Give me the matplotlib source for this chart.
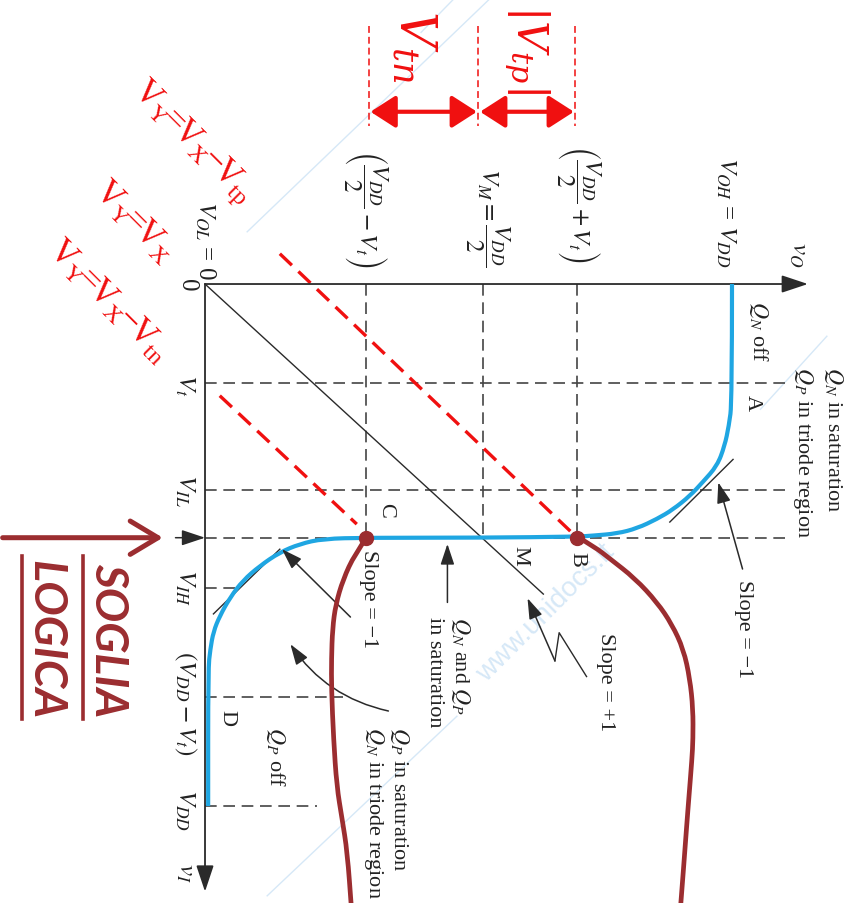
import numpy as np
import matplotlib.pyplot as plt
from matplotlib.path import Path
from matplotlib.patches import PathPatch

plt.rcParams['font.family'] = ['Liberation Serif', 'DejaVu Serif']
plt.rcParams['mathtext.fontset'] = 'custom'
plt.rcParams['mathtext.rm'] = 'Lato'
plt.rcParams['mathtext.it'] = 'Lato:italic'
plt.rcParams['mathtext.bf'] = 'Lato:bold'

# --- CMOS inverter transfer characteristic (volts, VDD = 5) ---
VDD = 5.0
V_T = 0.95          # input threshold level
V_IL = 1.97
V_M = 2.43          # switching threshold on v_I
V_IH = 2.91
V_DD_MINUS_T = 3.96

# output levels of points C, M, B on v_O
VO_C = 1.53
VO_M = 2.64
VO_B = 3.53

# VTC (v_I, v_O)
vtc_vi = [0.00, 1.13, 1.36, 1.55, 1.74, 1.90, 2.03, 2.16, 2.25, 2.34, 2.39, 2.41,
          2.42, 2.43, 2.43, 2.44, 2.49, 2.57, 2.70, 2.84, 3.00, 3.18, 3.33, 3.50,
          3.69, 5.00]
vtc_vo = [5.00, 5.00, 4.97, 4.93, 4.86, 4.72, 4.60, 4.44, 4.29, 4.10, 3.91, 3.68,
          3.53, 2.64, 1.53, 1.12, 0.90, 0.71, 0.52, 0.36, 0.24, 0.14, 0.08, 0.05,
          0.03, 0.03]

# hand-drawn pointers leaving B and C
curveB_vi = [2.42, 2.52, 2.63, 2.82, 3.05, 3.26, 3.50, 3.78, 4.07, 4.36, 4.55, 4.93, 5.19, 5.60, 5.99]
curveB_vo = [3.53, 3.70, 3.84, 4.08, 4.29, 4.43, 4.54, 4.60, 4.63, 4.63, 4.62, 4.59, 4.57, 4.54, 4.51]
curveC_vi = [2.42, 2.59, 2.83, 3.07, 3.30, 3.59, 3.88, 4.36, 4.81, 5.12, 5.44, 5.99]
curveC_vo = [1.54, 1.42, 1.31, 1.24, 1.21, 1.20, 1.20, 1.22, 1.25, 1.30, 1.35, 1.39]

# v_O = v_I - Vt style red guides (start, end) as (v_I, v_O)
line_tp = [(-0.29, 0.71), (2.40, 3.50)]
line_tn = [(1.07, 0.14), (2.30, 1.44)]
diag_end = (2.97, 3.21)

# dashed guide rows: (v_I, v_O where the dash stops)
guide_rows = [(V_T, 5.55), (V_IL, 5.55), (V_M, 5.55), (V_IH, 0.30),
              (V_DD_MINUS_T, 1.31), (VDD, 1.06)]
guide_cols = [VO_C, VO_M, VO_B]

# tangent segments (v_I, v_O)
tan_hi = [(2.28, 4.41), (1.68, 5.01)]
tan_lo = [(3.16, 0.08), (2.54, 0.71)]

BLUE = '#1fa6e2'
DRED = '#9b2d30'
RED = '#f01010'
INK = '#2a2a2a'
WM = '#d6e8f7'

fig = plt.figure(figsize=(8.53, 9.04), dpi=100)
ax = fig.add_axes([0, 0, 1, 1])
ax.set_xlim(-1.945, 6.148)
ax.set_ylim(5.929, -2.730)
ax.axis('off')


def smooth(vi, vo, **kw):
    pts = np.column_stack([vo, vi])
    verts = [pts[0]]
    codes = [Path.MOVETO]
    for i in range(1, len(pts) - 1):
        verts += [pts[i], (pts[i] + pts[i + 1]) / 2]
        codes += [Path.CURVE3, Path.CURVE3]
    verts.append(pts[-1])
    codes.append(Path.LINETO)
    ax.add_patch(PathPatch(Path(verts, codes), fill=False, **kw))


def arrow(start, end, color=INK, lw=1.1, style='-|>,head_length=0.9,head_width=0.3', ms=14, conn='arc3'):
    ax.annotate('', xy=(end[1], end[0]), xytext=(start[1], start[0]),
                arrowprops=dict(arrowstyle=style, color=color, lw=lw, mutation_scale=ms,
                                shrinkA=0, shrinkB=0, connectionstyle=conn))


# faint watermark traces
for (a, b) in [((-0.50, 0.40), (-2.73, 2.70)), ((5.86, 0.59), (4.14, 2.39)),
               ((1.20, 5.27), (0.50, 5.90)), ((-2.41, 2.05), (-2.73, 2.36))]:
    ax.plot([a[1], b[1]], [a[0], b[0]], color=WM, lw=1.0, zorder=0)
ax.text(3.23, 3.14, 'www.unidocs.it', color=WM, fontsize=20, rotation=45,
        ha='center', va='center', family='Liberation Sans', zorder=0)

# axes
arrow((0, 0), (0, 5.72), lw=1.3, ms=18)
arrow((0, 0), (5.82, 0), lw=1.3, ms=18)

# dashed guides
for vi, stop in guide_rows:
    ax.plot([0, stop], [vi, vi], color='#444', lw=1.2, dashes=(7, 4))
for vo in guide_cols:
    ax.plot([vo, vo], [0, V_M], color='#444', lw=1.2, dashes=(7, 4))

# slope +1 reference
ax.plot([0, diag_end[1]], [0, diag_end[0]], color=INK, lw=1.0)

# red v_Y = v_X - Vt guides
for ln in (line_tp, line_tn):
    ax.plot([ln[0][1], ln[1][1]], [ln[0][0], ln[1][0]], color=RED, lw=2.4, dashes=(5, 2.7))

# tangents
for tg in (tan_hi, tan_lo):
    ax.plot([tg[0][1], tg[1][1]], [tg[0][0], tg[1][0]], color=INK, lw=1.0)

# transfer characteristic
smooth(vtc_vi, vtc_vo, color=BLUE, lw=3.0, capstyle='butt', zorder=3)

# pointers from B and C
smooth(curveB_vi, curveB_vo, color=DRED, lw=3.4, zorder=4)
smooth(curveC_vi, curveC_vo, color=DRED, lw=3.4, zorder=4)
ax.plot([VO_B, VO_C], [V_M, V_M], 'o', color=DRED, ms=10, zorder=5)

# label arrows
arrow((2.73, 5.10), (1.90, 4.87))
arrow((3.19, 1.38), (2.54, 0.73))
arrow((3.05, 2.30), (2.49, 2.30))
arrow((4.09, 1.74), (3.45, 0.81), conn='arc3,rad=-0.2')
zig = [(3.76, 3.62), (3.34, 3.36), (3.61, 3.32)]
ax.plot([p[1] for p in zig], [p[0] for p in zig], color=INK, lw=1.0)
arrow(zig[-1], (3.01, 3.06))

# threshold marker on v_I
arrow((V_M, -0.28), (V_M, 0), lw=1.1, ms=16)
arrow((V_M, -1.92), (V_M, -0.40), color=DRED, lw=3.6,
      style='->,head_length=0.5,head_width=0.3', ms=40)

# tick labels on v_O
tk = dict(fontsize=18, rotation=-90, ha='center', va='bottom', math_fontfamily='stix', color='#222')
ax.text(0.0, -0.05, r'$V_{OL}$ = 0', **tk)
ax.text(1.52, -0.17, r'$\left(\dfrac{V_{DD}}{2} - V_t\right)$', **tk)
ax.text(2.68, -0.17, r'$V_M = \dfrac{V_{DD}}{2}$', **tk)
ax.text(3.54, -0.22, r'$\left(\dfrac{V_{DD}}{2} + V_t\right)$', **tk)
ax.text(4.94, -0.17, r'$V_{OH}$ = $V_{DD}$', **tk)
ax.text(5.63, -0.17, r'$v_O$', **tk)

# tick labels on v_I
tk.update(va='center')
ax.text(-0.17, 0.0, '0', **tk)
for vi, lab in [(0.96, r'$V_t$'), (1.97, r'$V_{IL}$'), (2.90, r'$V_{IH}$'),
                (4.01, r'$(V_{DD} - V_t)$'), (5.03, r'$V_{DD}$'), (5.63, r'$v_I$')]:
    ax.text(-0.19, vi, lab, **tk)

# region notes
nt = dict(fontsize=16, rotation=-90, ha='center', va='top', math_fontfamily='stix', color='#222')
ax.text(5.25, 0.15, r'$Q_N$ off', **nt)
ax.text(5.96, 0.79, r'$Q_N$ in saturation', **nt)
ax.text(5.67, 0.79, r'$Q_P$ in triode region', **nt)
ax.text(1.55, 2.54, 'Slope = \u22121', **nt)
ax.text(2.42, 3.18, r'$Q_N$ and $Q_P$', **nt)
ax.text(2.18, 3.18, 'in saturation', **nt)
ax.text(1.85, 4.23, r'$Q_P$ in saturation', **nt)
ax.text(1.60, 4.23, r'$Q_N$ in triode region', **nt)
ax.text(0.67, 4.23, r'$Q_P$ off', **nt)
ax.text(5.11, 2.83, 'Slope = \u22121', **nt)
ax.text(3.80, 3.33, 'Slope = +1', **nt)
nt.update(va='center')
for vo, vi, lab in [(5.19, 1.13, 'A'), (3.53, 2.63, 'B'), (1.71, 2.16, 'C'),
                    (2.99, 2.59, 'M'), (0.21, 4.15, 'D')]:
    ax.text(vo, vi, lab, **nt)

# red annotations
rd = dict(color=RED, fontsize=25, rotation=-45, ha='center', va='center', math_fontfamily='custom')
ax.text(-0.12, -1.37, r'$\mathregular{V_Y\!\!=\!\!V_X\!\!-\!\!V_{tp}}$', **rd)
ax.text(-0.68, -0.60, r'$\mathregular{V_Y\!\!=\!\!V_X}$', **rd)
ax.text(-0.92, 0.16, r'$\mathregular{V_{Y}\!\!=\!\!V_X\!\!-\!\!V_{tn}}$', **rd)

for vo in (1.56, 2.59, 3.51):
    ax.plot([vo, vo], [-2.47, -1.51], color=RED, lw=1.1, dashes=(4.5, 2.6))
for a, b in [(1.57, 2.58), (2.61, 3.50)]:
    ax.annotate('', xy=(b, -1.65), xytext=(a, -1.65),
                arrowprops=dict(arrowstyle='<|-|>,head_length=0.7,head_width=0.45', color=RED,
                                lw=3.0, mutation_scale=22, shrinkA=0, shrinkB=0))
ax.text(1.97, -2.29, r'$V_{tn}$', color=RED, fontsize=36, rotation=-90, ha='center', va='center',
        math_fontfamily='dejavuserif')
ax.text(3.05, -2.26, r'$|V_{tp}|$', color=RED, fontsize=31, rotation=-90, ha='center', va='center',
        math_fontfamily='dejavuserif')

# logic threshold note
sg = dict(color=DRED, fontsize=33, rotation=-90, ha='center', va='center',
          family='Lato', weight='bold', style='italic')
ax.text(-0.92, 3.40, 'SOGLIA', **sg)
ax.text(-1.52, 3.40, 'LOGICA', **sg)
for vo in (-1.16, -1.74):
    ax.plot([vo, vo], [2.61, 4.17], color=DRED, lw=2.6)

fig.savefig('out.png', dpi=100)
